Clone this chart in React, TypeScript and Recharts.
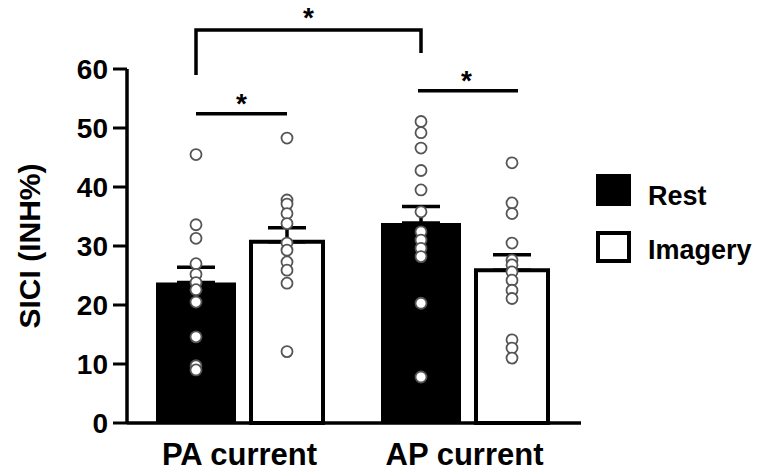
import { ComposedChart, Bar, Scatter, ErrorBar, XAxis, YAxis } from 'recharts';

// group means / SEM
const groups = ['PA current', 'AP current'];
const restMean = [23.8, 33.9];
const imageryMean = [30.7, 25.9];
const restSem = [2.6, 2.8];
const imagerySem = [2.4, 2.6];

// individual subjects
const paRestDots = [45.5, 33.6, 31.3, 27.0, 25.2, 23.8, 22.6, 20.5, 14.6, 9.7, 9.0];
const paImageryDots = [48.3, 37.8, 37.1, 35.5, 33.8, 30.5, 29.3, 27.3, 25.9, 23.7, 12.1];
const apRestDots = [51.1, 49.2, 46.6, 42.8, 39.5, 35.8, 32.4, 31.0, 29.6, 28.2, 20.3, 7.8];
const apImageryDots = [44.1, 37.3, 35.5, 30.5, 27.6, 26.8, 25.6, 24.2, 22.5, 21.1, 14.1, 12.7, 11.0];

const yTicks = [0, 10, 20, 30, 40, 50, 60];
const seriesNames = ['Rest', 'Imagery'];

// significance marks (y in data units)
const bracketLevels = [66.6, 59.0, 62.7]; // top, left drop, right drop
const paSigLevel = 52.4;
const apSigLevel = 56.3;

// layout
const W = 758;
const H = 473;
const PLOT_LEFT = 127;
const PLOT_RIGHT = 581;
const PLOT_TOP = 69;
const PLOT_BOTTOM = 423;
const X_PAD_RIGHT = 4;
const REST_W = 80;
const IMG_W = 72;
const BAR_GAP = 15;
const Y_MAX = 60;

const chartData = groups.map((g, i) => ({
  group: g,
  rest: restMean[i],
  imagery: imageryMean[i],
  restErr: [0, restSem[i]],
  imageryErr: [0, imagerySem[i]],
}));

const restDots = [
  ...paRestDots.map((v) => ({ group: groups[0], value: v })),
  ...apRestDots.map((v) => ({ group: groups[1], value: v })),
];
const imageryDots = [
  ...paImageryDots.map((v) => ({ group: groups[0], value: v })),
  ...apImageryDots.map((v) => ({ group: groups[1], value: v })),
];

// bar centre offsets from category centre
const groupW = REST_W + BAR_GAP + IMG_W;
const restDx = -groupW / 2 + REST_W / 2;
const imgDx = groupW / 2 - IMG_W / 2;

const band = (PLOT_RIGHT - PLOT_LEFT - X_PAD_RIGHT) / groups.length;
const catCenter = (i: number) => PLOT_LEFT + band * (i + 0.5);
const yPx = (v: number) => PLOT_BOTTOM - (v / Y_MAX) * (PLOT_BOTTOM - PLOT_TOP);

const dotShape = (dx: number) => (props: any) => (
  <circle
    cx={props.cx + dx}
    cy={props.cy}
    r={5.5}
    fill='#fff'
    stroke='#555'
    strokeWidth={1.8}
  />
);

const YLabel = (props: any) => {
  const vb = props.viewBox || { x: 0, y: PLOT_TOP, width: 127, height: 354 };
  const cx = vb.x + 29;
  const cy = vb.y + vb.height / 2;
  return (
    <text
      x={cx}
      y={cy}
      transform={`rotate(-90, ${cx}, ${cy})`}
      textAnchor='middle'
      dominantBaseline='central'
      fontSize={30}
      fontWeight={700}
      fill='#000'
    >
      SICI (INH%)
    </text>
  );
};

const Star = ({ x, y }: { x: number; y: number }) => (
  <text x={x} y={y} textAnchor='middle' fontSize={28} fontWeight={700} fill='#000'>
    *
  </text>
);

const App = () => {
  const paRest = catCenter(0) + restDx;
  const paImg = catCenter(0) + imgDx;
  const apRest = catCenter(1) + restDx;
  const apImg = catCenter(1) + imgDx;
  const sw = 3.5;

  return (
    <div
      style={{
        position: 'relative',
        width: W,
        height: H,
        fontFamily: '"Liberation Sans", Arial, sans-serif',
      }}
    >
      <style>{'body{margin:0}'}</style>
      <ComposedChart
        width={W}
        height={H}
        data={chartData}
        margin={{ top: PLOT_TOP, right: W - PLOT_RIGHT, bottom: 5, left: 0 }}
        barGap={BAR_GAP}
      >
        <XAxis
          dataKey='group'
          allowDuplicatedCategory={false}
          padding={{ left: 0, right: X_PAD_RIGHT }}
          height={45}
          axisLine={{ stroke: '#000', strokeWidth: sw }}
          tickLine={false}
          tickSize={6}
          tickMargin={14}
          tick={{ fontSize: 31, fontWeight: 700, fill: '#000' }}
        />
        <YAxis
          width={PLOT_LEFT}
          domain={[0, Y_MAX]}
          ticks={yTicks}
          interval={0}
          axisLine={{ stroke: '#000', strokeWidth: sw }}
          tickLine={{ stroke: '#000', strokeWidth: 3 }}
          tickSize={14}
          tickMargin={5}
          tick={{ fontSize: 28, fontWeight: 700, fill: '#000' }}
          label={YLabel}
        />
        <Bar dataKey='rest' name={seriesNames[0]} fill='#000' barSize={REST_W} isAnimationActive={false}>
          <ErrorBar dataKey='restErr' width={19} stroke='#000' strokeWidth={3.5} />
        </Bar>
        <Bar
          dataKey='imagery'
          name={seriesNames[1]}
          fill='#fff'
          stroke='#000'
          strokeWidth={4}
          barSize={IMG_W}
          isAnimationActive={false}
        >
          <ErrorBar dataKey='imageryErr' width={19} stroke='#000' strokeWidth={3.5} />
        </Bar>
        <Scatter
          data={restDots}
          dataKey='value'
          shape={dotShape(restDx)}
          legendType='none'
          isAnimationActive={false}
        />
        <Scatter
          data={imageryDots}
          dataKey='value'
          shape={dotShape(imgDx)}
          legendType='none'
          isAnimationActive={false}
        />
      </ComposedChart>

      {/* legend + significance marks */}
      <svg
        width={W}
        height={H}
        style={{ position: 'absolute', left: 0, top: 0, pointerEvents: 'none' }}
      >
        <path
          d={`M${paRest},${yPx(bracketLevels[1])} V${yPx(bracketLevels[0])} H${apRest} V${yPx(bracketLevels[2])}`}
          fill='none'
          stroke='#000'
          strokeWidth={sw}
        />
        <Star x={(paRest + apRest) / 2} y={yPx(bracketLevels[0]) - 3} />
        <line x1={paRest} x2={paImg} y1={yPx(paSigLevel)} y2={yPx(paSigLevel)} stroke='#000' strokeWidth={sw} />
        <Star x={(paRest + paImg) / 2} y={yPx(paSigLevel) - 1} />
        <line x1={apRest - 3} x2={apImg + 6} y1={yPx(apSigLevel)} y2={yPx(apSigLevel)} stroke='#000' strokeWidth={sw} />
        <Star x={(apRest + apImg) / 2} y={yPx(apSigLevel) - 1} />

        <rect x={596} y={174} width={35} height={32} fill='#000' />
        <text x={648} y={205} fontSize={27} fontWeight={700} fill='#000'>
          {seriesNames[0]}
        </text>
        <rect x={598} y={233} width={31} height={28} fill='#fff' stroke='#000' strokeWidth={4} />
        <text x={648} y={259} fontSize={27} fontWeight={700} fill='#000'>
          {seriesNames[1]}
        </text>
      </svg>
    </div>
  );
};

export default App;
